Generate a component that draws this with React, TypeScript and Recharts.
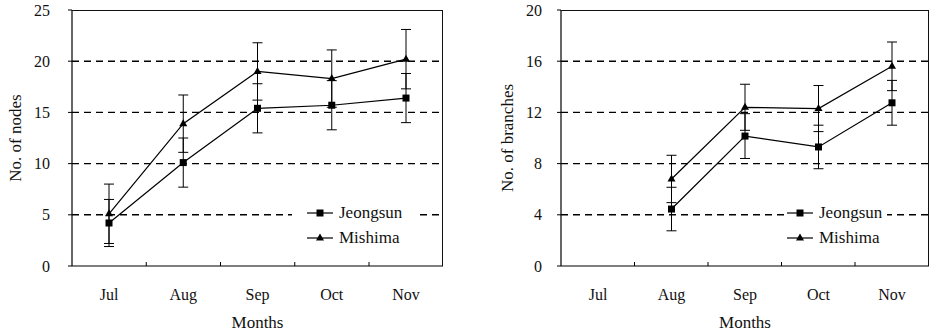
import React from 'react';
import {
  ErrorBar,
  Legend,
  Line,
  LineChart,
  ReferenceLine,
  XAxis,
  YAxis,
} from 'recharts';

const FONT = '"Liberation Serif", "Times New Roman", serif';

const months = ['Jul', 'Aug', 'Sep', 'Oct', 'Nov'];

// left panel: number of nodes
const nodesJeongsun = [4.2, 10.1, 15.4, 15.7, 16.4];
const nodesJeongsunErr = [2.3, 2.4, 2.4, 2.4, 2.4];
const nodesMishima = [5.1, 13.9, 19.0, 18.3, 20.2];
const nodesMishimaErr = [2.9, 2.8, 2.8, 2.8, 2.9];
const nodesTicks = [0, 5, 10, 15, 20, 25];
const nodesGrid = [5, 10, 15, 20];

// right panel: number of branches (no July reading)
const branchesJeongsun = [null, 4.45, 10.15, 9.3, 12.75];
const branchesJeongsunErr = [null, 1.7, 1.75, 1.7, 1.75];
const branchesMishima = [null, 6.8, 12.4, 12.3, 15.6];
const branchesMishimaErr = [null, 1.85, 1.8, 1.8, 1.9];
const branchesTicks = [0, 4, 8, 12, 16, 20];
const branchesGrid = [4, 8, 12, 16];

const CHART_W = 465;
const CHART_H = 336;
const TOP = 10;
const X_AXIS_H = 70;
const X_PAD = 37;
const X_TICK_MARGIN = 23;

const build = (j: (number | null)[], jErr: (number | null)[], m: (number | null)[], mErr: (number | null)[]) =>
  months.map((month, i) => ({ month, Jeongsun: j[i], jErr: jErr[i], Mishima: m[i], mErr: mErr[i] }));

const nodesData = build(nodesJeongsun, nodesJeongsunErr, nodesMishima, nodesMishimaErr);
const branchesData = build(branchesJeongsun, branchesJeongsunErr, branchesMishima, branchesMishimaErr);

const SquareDot = (props: any) => {
  const { cx, cy, index } = props;
  if (cx == null || cy == null || Number.isNaN(cy)) return <g key={`s-${index}`} />;
  return <rect key={`s-${index}`} x={cx - 3.5} y={cy - 3.5} width={7} height={7} fill="#000" />;
};

const TriangleDot = (props: any) => {
  const { cx, cy, index } = props;
  if (cx == null || cy == null || Number.isNaN(cy)) return <g key={`t-${index}`} />;
  return <polygon key={`t-${index}`} points={`${cx},${cy - 4.5} ${cx - 4},${cy + 2.5} ${cx + 4},${cy + 2.5}`} fill="#000" />;
};

// month label plus the small inward tick on the boundary left of each month
const MonthTick = (props: any) => {
  const { x, y, payload } = props;
  const axisY = y - X_TICK_MARGIN;
  const first = months.indexOf(payload.value) === 0;
  return (
    <g>
      {!first && (
        <line x1={x - X_PAD} y1={axisY} x2={x - X_PAD} y2={axisY - 4} stroke="#000" strokeWidth={1} />
      )}
      <text x={x} y={y} dy="0.71em" textAnchor="middle" fill="#111" fontSize={16} fontFamily={FONT}>
        {payload.value}
      </text>
    </g>
  );
};

const LegendBox = ({ payload, pad }: any) => (
  <div style={{ fontFamily: FONT, fontSize: 17, color: '#111', background: '#fff', paddingLeft: pad }}>
    {(payload || []).map((entry: any) => (
      <div key={entry.value} style={{ display: 'flex', alignItems: 'center', height: 25 }}>
        <svg width={26} height={10}>
          <line x1={0} y1={5} x2={26} y2={5} stroke="#000" strokeWidth={1.2} />
          {entry.value === 'Jeongsun' ? (
            <rect x={9.5} y={1.5} width={7} height={7} fill="#000" />
          ) : (
            <polygon points="13,0.5 9,7.5 17,7.5" fill="#000" />
          )}
        </svg>
        <span style={{ marginLeft: 6 }}>{entry.value}</span>
      </div>
    ))}
  </div>
);

interface PanelProps {
  data: any[];
  yLabel: string;
  ticks: number[];
  grid: number[];
  axisWidth: number;
  tickMargin: number;
  labelOffset: number;
  rightWidth: number;
  legendLeft: number;
  legendPad: number;
  legendWidth: number;
}

const Panel = ({
  data,
  yLabel,
  ticks,
  grid,
  axisWidth,
  tickMargin,
  labelOffset,
  rightWidth,
  legendLeft,
  legendPad,
  legendWidth,
}: PanelProps) => {
  const top = ticks[ticks.length - 1];
  return (
    <div style={{ position: 'relative', width: CHART_W, height: CHART_H }}>
      <LineChart width={CHART_W} height={CHART_H} data={data} margin={{ top: TOP, right: rightWidth, bottom: 0, left: 0 }}>
        <XAxis
          dataKey="month"
          scale="point"
          padding={{ left: X_PAD, right: X_PAD }}
          height={X_AXIS_H}
          tickSize={0}
          tickMargin={X_TICK_MARGIN}
          tick={<MonthTick />}
          axisLine={{ stroke: '#000', strokeWidth: 1.2 }}
          label={{ value: 'Months', position: 'insideBottom', offset: 8, fill: '#111', fontSize: 17, fontFamily: FONT }}
        />
        <YAxis
          domain={[0, top]}
          ticks={ticks}
          width={axisWidth}
          tickSize={4}
          tickMargin={tickMargin}
          tick={{ fill: '#111', fontSize: 16, fontFamily: FONT }}
          tickLine={{ stroke: '#000' }}
          axisLine={{ stroke: '#000', strokeWidth: 1.2 }}
          label={{
            value: yLabel,
            angle: -90,
            position: 'insideLeft',
            offset: labelOffset,
            fill: '#111',
            fontSize: 17,
            fontFamily: FONT,
            style: { textAnchor: 'middle' },
          }}
        />
        {grid.map((v) => (
          <ReferenceLine key={v} y={v} stroke="#000" strokeWidth={1.4} strokeDasharray="7 5" />
        ))}
        <Legend
          layout="vertical"
          align="center"
          verticalAlign="middle"
          content={<LegendBox pad={legendPad} />}
          wrapperStyle={{ left: legendLeft, top: 200.5, width: legendWidth, height: 50 }}
        />
        <Line
          dataKey="Jeongsun"
          stroke="#000"
          strokeWidth={1.2}
          dot={SquareDot}
          activeDot={false}
          isAnimationActive={false}
        >
          <ErrorBar dataKey="jErr" direction="y" width={5} stroke="#000" strokeWidth={1} isAnimationActive={false} />
        </Line>
        <Line
          dataKey="Mishima"
          stroke="#000"
          strokeWidth={1.2}
          dot={TriangleDot}
          activeDot={false}
          isAnimationActive={false}
        >
          <ErrorBar dataKey="mErr" direction="y" width={5} stroke="#000" strokeWidth={1} isAnimationActive={false} />
        </Line>
      </LineChart>
      {/* top and right edges of the plot frame */}
      <div
        style={{
          position: 'absolute',
          left: axisWidth,
          top: TOP,
          width: CHART_W - axisWidth - rightWidth,
          height: CHART_H - TOP - X_AXIS_H,
          boxSizing: 'border-box',
          borderTop: '1px solid #111',
          borderRight: '1px solid #111',
          pointerEvents: 'none',
        }}
      />
    </div>
  );
};

export default function App() {
  return (
    <div style={{ position: 'absolute', left: 0, top: 0, width: 930, height: 336, display: 'flex', background: '#fff' }}>
      <Panel
        data={nodesData}
        yLabel="No. of nodes"
        ticks={nodesTicks}
        grid={nodesGrid}
        axisWidth={72}
        tickMargin={18}
        labelOffset={15}
        rightWidth={22}
        legendLeft={292}
        legendPad={15}
        legendWidth={123}
      />
      <Panel
        data={branchesData}
        yLabel="No. of branches"
        ticks={branchesTicks}
        grid={branchesGrid}
        axisWidth={96}
        tickMargin={15}
        labelOffset={42}
        rightWidth={1}
        legendLeft={320}
        legendPad={2}
        legendWidth={102}
      />
    </div>
  );
}
